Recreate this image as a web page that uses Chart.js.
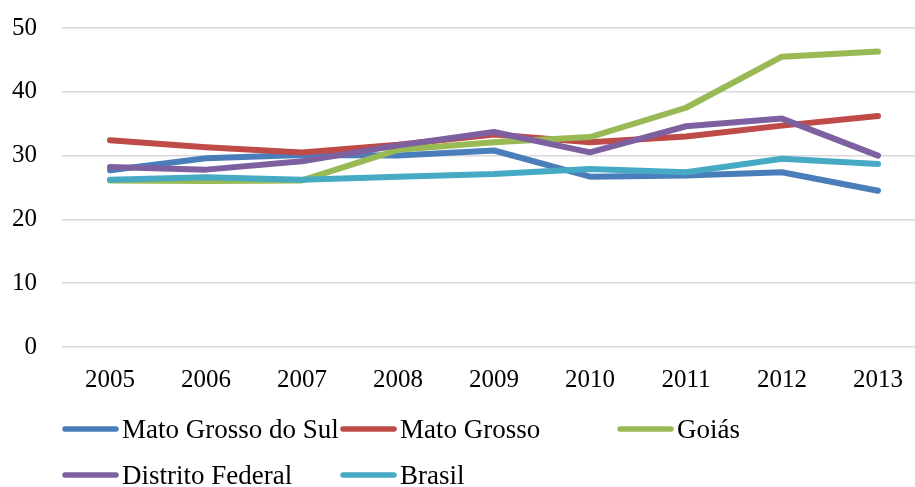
<!DOCTYPE html>
<html>
<head>
<meta charset="utf-8">
<script src="https://cdn.jsdelivr.net/npm/chart.js@4.4.1/dist/chart.umd.min.js"></script>
<style>
  html, body { margin: 0; padding: 0; background: #fff; overflow: hidden; }
  #wrap { width: 930px; height: 487px; }
</style>
</head>
<body>
<div id="wrap"><canvas id="myChart"></canvas></div>
<script>
const years = ['2005', '2006', '2007', '2008', '2009', '2010', '2011', '2012', '2013'];

const seriesNames = ['Mato Grosso do Sul', 'Mato Grosso', 'Goiás', 'Distrito Federal', 'Brasil'];
const seriesColors = ['#4A7EBB', '#BE4B48', '#98B954', '#7D60A0', '#46AAC5'];

const matoGrossoDoSul = [27.7, 29.6, 30.1, 30.0, 30.8, 26.7, 26.9, 27.4, 24.5];
const matoGrosso      = [32.4, 31.3, 30.5, 31.7, 33.3, 32.1, 33.0, 34.7, 36.2];
const goias           = [26.1, 26.0, 26.1, 30.9, 32.1, 32.9, 37.5, 45.5, 46.3];
const distritoFederal = [28.2, 27.8, 29.1, 31.6, 33.7, 30.5, 34.6, 35.8, 30.0];
const brasil          = [26.2, 26.6, 26.2, 26.7, 27.1, 27.9, 27.4, 29.5, 28.7];

const yTicks = [0, 10, 20, 30, 40, 50];

const allSeries = [matoGrossoDoSul, matoGrosso, goias, distritoFederal, brasil];
const FONT = '"Liberation Serif", "Times New Roman", serif';

// legenda desenhada à mão: 3 colunas fixas como no Excel
const bottomLegend = {
  id: 'bottomLegend',
  afterDraw(chart) {
    const c = chart.ctx;
    const colX = [63, 341, 618];
    const rowY = [429, 475];
    chart.data.datasets.forEach((ds, i) => {
      const x = colX[i % 3];
      const y = rowY[Math.floor(i / 3)];
      c.save();
      c.strokeStyle = ds.borderColor;
      c.lineWidth = 5.5;
      c.lineCap = 'round';
      c.beginPath();
      c.moveTo(x + 2, y);
      c.lineTo(x + 53, y);
      c.stroke();
      c.fillStyle = '#000';
      c.font = '27px ' + FONT;
      c.textBaseline = 'alphabetic';
      c.fillText(ds.label, x + 59, y + 8.5);
      c.restore();
    });
  }
};

const ctx = document.getElementById('myChart').getContext('2d');
new Chart(ctx, {
  type: 'line',
  data: {
    labels: years,
    datasets: allSeries.map((values, i) => ({
      label: seriesNames[i],
      data: values,
      borderColor: seriesColors[i],
      backgroundColor: seriesColors[i],
      borderWidth: 6,
      borderCapStyle: 'round',
      borderJoinStyle: 'round',
      pointRadius: 0,
      tension: 0,
      order: allSeries.length - i
    }))
  },
  options: {
    responsive: true,
    maintainAspectRatio: false,
    animation: false,
    layout: { padding: { left: 12, top: 28, right: 4, bottom: 74 } },
    plugins: {
      legend: { display: false },
      tooltip: { enabled: false }
    },
    scales: {
      x: {
        offset: true,
        grid: { display: false, drawTicks: false },
        border: { display: false },
        ticks: { color: '#000', font: { family: FONT, size: 25 }, padding: 18, maxRotation: 0 }
      },
      y: {
        min: 0,
        max: 50,
        afterBuildTicks: axis => { axis.ticks = yTicks.map(v => ({ value: v })); },
        afterFit: axis => {
          axis.width = 50;
          axis.paddingTop = 0;
          axis.paddingBottom = 0;
        },
        grid: { color: '#d9d9d9', lineWidth: 1.5, drawTicks: false },
        border: { display: false },
        ticks: { color: '#000', font: { family: FONT, size: 25 }, padding: 25 }
      }
    }
  },
  plugins: [bottomLegend]
});
</script>
</body>
</html>
